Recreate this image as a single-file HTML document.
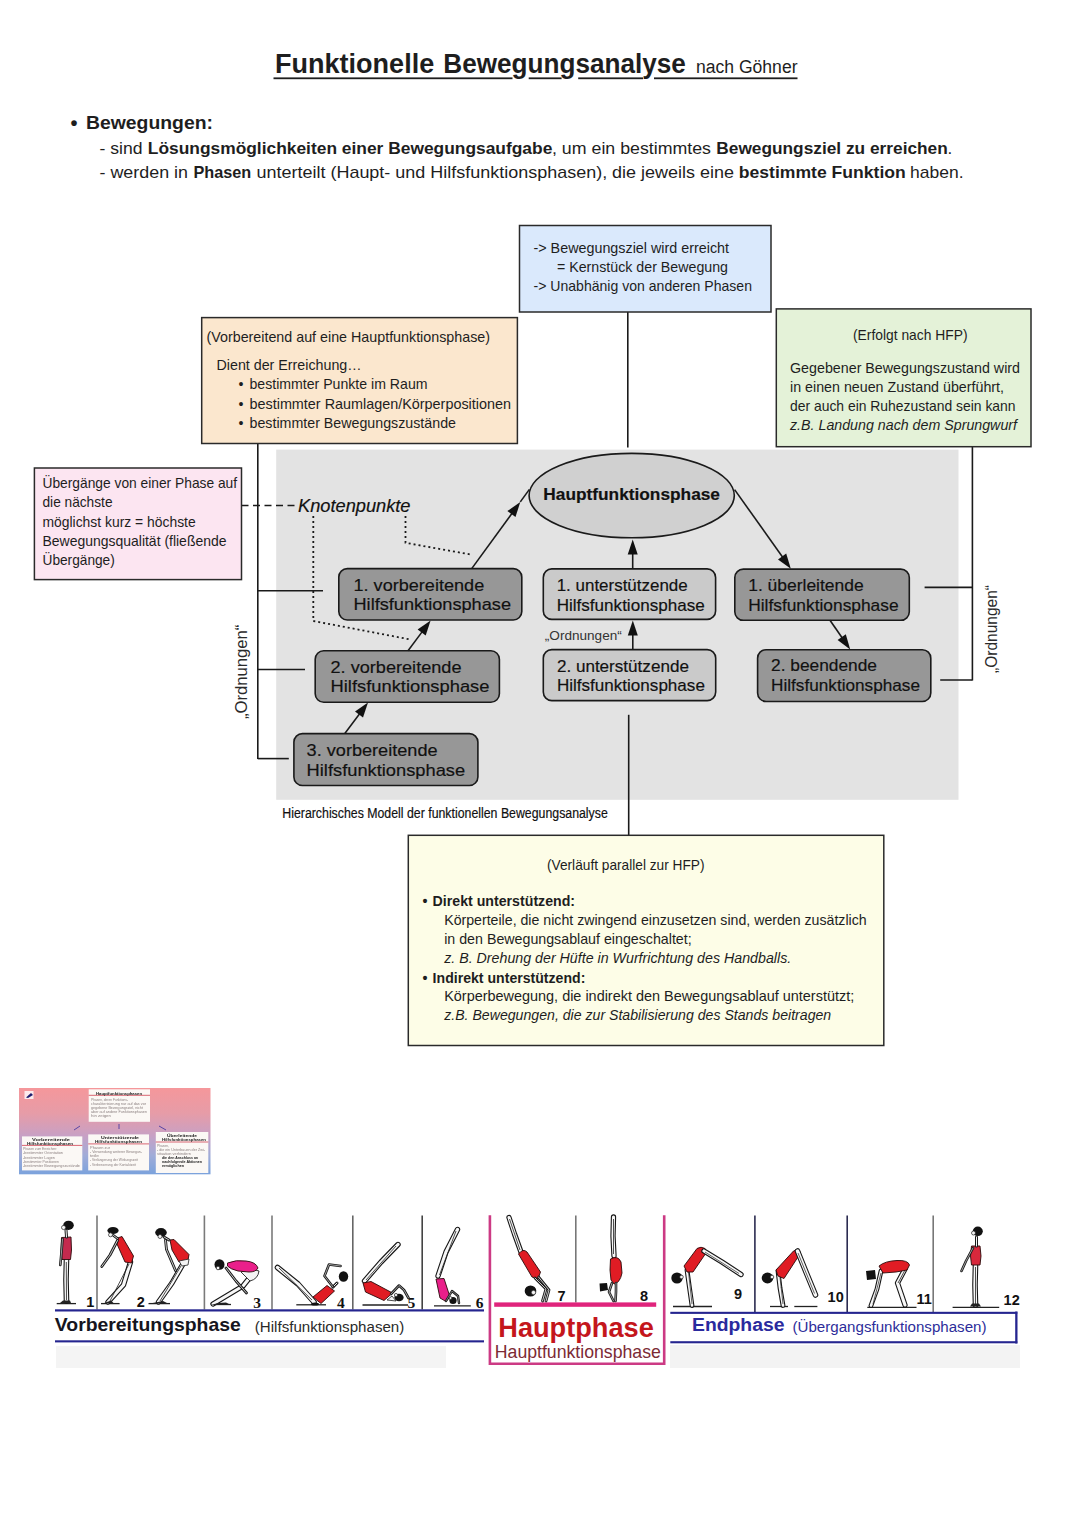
<!DOCTYPE html>
<html><head><meta charset="utf-8">
<style>
html,body{margin:0;padding:0;background:#fff;width:1080px;height:1527px;overflow:hidden}
svg{display:block}
text{font-family:"Liberation Sans",sans-serif;fill:#1e1e1e}
.b{font-weight:bold}
.i{font-style:italic}
.h{fill:#111;stroke:#111;stroke-width:0.18px}
</style></head>
<body>
<svg width="1080" height="1527" viewBox="0 0 1080 1527">

<text x="275.0" y="72.8" font-size="27.5" class="b" textLength="159.18" lengthAdjust="spacingAndGlyphs">Funktionelle</text>
<text x="443.3" y="72.8" font-size="27.5" class="b" textLength="242.54" lengthAdjust="spacingAndGlyphs">Bewegungsanalyse</text>
<text x="696" y="73" font-size="18" textLength="101.5" lengthAdjust="spacingAndGlyphs">nach Göhner</text>
<rect x="273.5" y="77.4" width="239.0" height="1.8" fill="#1e1e1e"/>
<rect x="528.7" y="77.4" width="32.9" height="1.8" fill="#1e1e1e"/>
<rect x="578.2" y="77.4" width="64.8" height="1.8" fill="#1e1e1e"/>
<rect x="654" y="77.4" width="143.5" height="1.8" fill="#1e1e1e"/>
<text x="70.5" y="129.5" font-size="20" class="b">•</text>
<text x="86" y="129.3" font-size="18.8" class="b" textLength="127" lengthAdjust="spacingAndGlyphs">Bewegungen:</text>
<text x="99.5" y="154" font-size="17" textLength="43" lengthAdjust="spacingAndGlyphs">- sind</text>
<text x="147.8" y="154" font-size="17" class="b" textLength="404.5" lengthAdjust="spacingAndGlyphs">Lösungsmöglichkeiten einer Bewegungsaufgabe</text>
<text x="552" y="154" font-size="17" textLength="159" lengthAdjust="spacingAndGlyphs">, um ein bestimmtes</text>
<text x="716.3" y="154" font-size="17" class="b" textLength="231.5" lengthAdjust="spacingAndGlyphs">Bewegungsziel zu erreichen</text>
<text x="947.5" y="154" font-size="17">.</text>
<text x="99.5" y="178" font-size="17" textLength="88.5" lengthAdjust="spacingAndGlyphs">- werden in</text>
<text x="193.4" y="178" font-size="17" class="b" textLength="57.8" lengthAdjust="spacingAndGlyphs">Phasen</text>
<text x="256.5" y="178" font-size="17" textLength="477.5" lengthAdjust="spacingAndGlyphs">unterteilt (Haupt- und Hilfsfunktionsphasen), die jeweils eine</text>
<text x="738.8" y="178" font-size="17" class="b" textLength="167" lengthAdjust="spacingAndGlyphs">bestimmte Funktion</text>
<text x="910" y="178" font-size="17" textLength="53.5" lengthAdjust="spacingAndGlyphs">haben.</text>
<rect x="276.2" y="449.6" width="682.3" height="350.2" fill="#e3e3e3"/>
<line x1="627.8" y1="312" x2="627.8" y2="447.6" stroke="#1a1a1a" stroke-width="1.6" />
<line x1="257.8" y1="443.5" x2="257.8" y2="759" stroke="#1a1a1a" stroke-width="1.6" />
<line x1="257.8" y1="590.8" x2="323" y2="590.8" stroke="#1a1a1a" stroke-width="1.6" />
<line x1="257.8" y1="669.5" x2="305" y2="669.5" stroke="#1a1a1a" stroke-width="1.6" />
<line x1="257.8" y1="758.6" x2="288.8" y2="758.6" stroke="#1a1a1a" stroke-width="1.6" />
<line x1="972.4" y1="446.5" x2="972.4" y2="680.5" stroke="#1a1a1a" stroke-width="1.6" />
<line x1="924.6" y1="587.4" x2="972.4" y2="587.4" stroke="#1a1a1a" stroke-width="1.6" />
<line x1="940.2" y1="680" x2="972.4" y2="680" stroke="#1a1a1a" stroke-width="1.6" />
<line x1="628.7" y1="714.8" x2="628.7" y2="835.5" stroke="#1a1a1a" stroke-width="1.6" />
<line x1="241.5" y1="505.5" x2="296.5" y2="505.5" stroke="#1a1a1a" stroke-width="1.6" stroke-dasharray="7,4.5"/>
<polyline points="313.3,516 313.3,621 410.5,639.5" fill="none" stroke="#1a1a1a" stroke-width="1.8" stroke-dasharray="2,3"/>
<polyline points="405.5,516 405.5,542.8 471.7,554.7" fill="none" stroke="#1a1a1a" stroke-width="1.8" stroke-dasharray="2,3"/>
<ellipse cx="631.7" cy="495.6" rx="102.6" ry="42.2" fill="#d0d0d0" stroke="#1a1a1a" stroke-width="1.6"/>
<text x="543.3" y="500" font-size="17" class="b h" textLength="176.7" lengthAdjust="spacingAndGlyphs">Hauptfunktionsphase</text>
<text x="298" y="511.7" font-size="17.5" class="i h" textLength="112.5" lengthAdjust="spacingAndGlyphs">Knotenpunkte</text>
<rect x="338.8" y="568.6" width="183" height="51.4" rx="8.5" ry="8.5" fill="#979797" stroke="#1a1a1a" stroke-width="1.6"/>
<rect x="315.2" y="650.8" width="184.2" height="51.4" rx="8.5" ry="8.5" fill="#979797" stroke="#1a1a1a" stroke-width="1.6"/>
<rect x="293.9" y="733.6" width="184" height="51.9" rx="8.5" ry="8.5" fill="#979797" stroke="#1a1a1a" stroke-width="1.6"/>
<rect x="543.3" y="568.9" width="172.3" height="50.5" rx="8.5" ry="8.5" fill="#cacaca" stroke="#1a1a1a" stroke-width="1.6"/>
<rect x="543.3" y="649.6" width="172.4" height="51" rx="8.5" ry="8.5" fill="#cacaca" stroke="#1a1a1a" stroke-width="1.6"/>
<rect x="734.8" y="569.1" width="174.5" height="51.2" rx="8.5" ry="8.5" fill="#979797" stroke="#1a1a1a" stroke-width="1.6"/>
<rect x="757.6" y="649.7" width="173.2" height="51.8" rx="8.5" ry="8.5" fill="#979797" stroke="#1a1a1a" stroke-width="1.6"/>
<text x="353.5" y="590.8" font-size="16.4" class="h" textLength="130.7" lengthAdjust="spacingAndGlyphs">1. vorbereitende</text>
<text x="353.5" y="610.3" font-size="16.4" class="h" textLength="157.5" lengthAdjust="spacingAndGlyphs">Hilfsfunktionsphase</text>
<text x="330.5" y="672.8" font-size="16.4" class="h" textLength="131" lengthAdjust="spacingAndGlyphs">2. vorbereitende</text>
<text x="330.5" y="692.3" font-size="16.4" class="h" textLength="159" lengthAdjust="spacingAndGlyphs">Hilfsfunktionsphase</text>
<text x="306.6" y="756" font-size="16.4" class="h" textLength="131" lengthAdjust="spacingAndGlyphs">3. vorbereitende</text>
<text x="306.6" y="775.5" font-size="16.4" class="h" textLength="158.6" lengthAdjust="spacingAndGlyphs">Hilfsfunktionsphase</text>
<text x="556.7" y="591" font-size="16.4" class="h" textLength="131" lengthAdjust="spacingAndGlyphs">1. unterstützende</text>
<text x="556.7" y="610.5" font-size="16.4" class="h" textLength="148" lengthAdjust="spacingAndGlyphs">Hilfsfunktionsphase</text>
<text x="556.9" y="671.9" font-size="16.4" class="h" textLength="132" lengthAdjust="spacingAndGlyphs">2. unterstützende</text>
<text x="556.9" y="691.4" font-size="16.4" class="h" textLength="148" lengthAdjust="spacingAndGlyphs">Hilfsfunktionsphase</text>
<text x="748.2" y="591.4" font-size="16.4" class="h" textLength="115.5" lengthAdjust="spacingAndGlyphs">1. überleitende</text>
<text x="748.2" y="610.9" font-size="16.4" class="h" textLength="150.4" lengthAdjust="spacingAndGlyphs">Hilfsfunktionsphase</text>
<text x="771" y="671.2" font-size="16.4" class="h" textLength="106" lengthAdjust="spacingAndGlyphs">2. beendende</text>
<text x="771" y="690.7" font-size="16.4" class="h" textLength="149" lengthAdjust="spacingAndGlyphs">Hilfsfunktionsphase</text>
<line x1="471.7" y1="568.6" x2="512.0555128180249" y2="513.2149649184719" stroke="#1a1a1a" stroke-width="1.6" />
<polygon points="520.3,501.9 515.5,517.0 507.4,511.1" fill="#111"/>
<line x1="520.3" y1="501.9" x2="529.4" y2="489.4" stroke="#1a1a1a" stroke-width="1.6" />
<line x1="408" y1="650.8" x2="422.24738179550786" y2="631.6353802396708" stroke="#1a1a1a" stroke-width="1.6" />
<polygon points="430.6,620.4 425.7,635.4 417.6,629.5" fill="#111"/>
<line x1="344.8" y1="733.6" x2="359.62889378219097" y2="713.7216122143906" stroke="#1a1a1a" stroke-width="1.6" />
<polygon points="368.0,702.5 363.0,717.5 355.0,711.5" fill="#111"/>
<line x1="632.7" y1="568.9" x2="632.7" y2="553.5" stroke="#1a1a1a" stroke-width="1.6" />
<polygon points="632.7,539.5 637.7,554.5 627.7,554.5" fill="#111"/>
<line x1="632.8" y1="649.6" x2="632.8" y2="634.5" stroke="#1a1a1a" stroke-width="1.6" />
<polygon points="632.8,620.5 637.8,635.5 627.8,635.5" fill="#111"/>
<line x1="734.6" y1="489.6" x2="782.6913524622128" y2="557.2872950135414" stroke="#1a1a1a" stroke-width="1.6" />
<polygon points="790.8,568.7 778.0,559.4 786.2,553.6" fill="#111"/>
<line x1="830" y1="620.2" x2="842.2535772743826" y2="637.9737531752182" stroke="#1a1a1a" stroke-width="1.6" />
<polygon points="850.2,649.5 837.6,640.0 845.8,634.3" fill="#111"/>
<text x="544.8" y="639.8" font-size="12" style="fill:#333" textLength="77" lengthAdjust="spacingAndGlyphs">„Ordnungen“</text>
<text transform="translate(247.3,719) rotate(-90)" x="0" y="0" font-size="15.6" style="fill:#2a2a2a" textLength="94.3" lengthAdjust="spacingAndGlyphs">„Ordnungen“</text>
<text transform="translate(996.5,673) rotate(-90)" x="0" y="0" font-size="15.6" style="fill:#2a2a2a" textLength="88" lengthAdjust="spacingAndGlyphs">„Ordnungen“</text>
<text x="282.3" y="818" font-size="13.8" class="h" textLength="325.5" lengthAdjust="spacingAndGlyphs">Hierarchisches Modell der funktionellen Bewegungsanalyse</text>
<rect x="519.5" y="225.5" width="251.5" height="86.5" fill="#dae9fc" stroke="#2a2a2a" stroke-width="1.5"/>
<text x="533.5" y="253" font-size="14.3" textLength="195.5" lengthAdjust="spacingAndGlyphs">-&gt; Bewegungsziel wird erreicht</text>
<text x="557" y="272" font-size="14.3" textLength="171" lengthAdjust="spacingAndGlyphs">= Kernstück der Bewegung</text>
<text x="533.5" y="291" font-size="14.3" textLength="218.5" lengthAdjust="spacingAndGlyphs">-&gt; Unabhänig von anderen Phasen</text>
<rect x="201.7" y="317.6" width="315.7" height="125.9" fill="#fbe7ce" stroke="#2a2a2a" stroke-width="1.5"/>
<text x="206.5" y="342" font-size="14.2" textLength="283.5" lengthAdjust="spacingAndGlyphs">(Vorbereitend auf eine Hauptfunktionsphase)</text>
<text x="216.5" y="369.6" font-size="14.2" textLength="145" lengthAdjust="spacingAndGlyphs">Dient der Erreichung…</text>
<text x="238.5" y="389" font-size="14.2">•</text>
<text x="249.5" y="389" font-size="14.2" textLength="178" lengthAdjust="spacingAndGlyphs">bestimmter Punkte im Raum</text>
<text x="238.5" y="408.5" font-size="14.2">•</text>
<text x="249.5" y="408.5" font-size="14.2" textLength="261.5" lengthAdjust="spacingAndGlyphs">bestimmter Raumlagen/Körperpositionen</text>
<text x="238.5" y="427.7" font-size="14.2">•</text>
<text x="249.5" y="427.7" font-size="14.2" textLength="206.5" lengthAdjust="spacingAndGlyphs">bestimmter Bewegungszustände</text>
<rect x="776.3" y="308.9" width="254.7" height="137.8" fill="#e4f2d8" stroke="#2a2a2a" stroke-width="1.5"/>
<text x="853" y="340" font-size="14.2" textLength="114.5" lengthAdjust="spacingAndGlyphs">(Erfolgt nach HFP)</text>
<text x="790" y="372.6" font-size="14.2" textLength="230" lengthAdjust="spacingAndGlyphs">Gegebener Bewegungszustand wird</text>
<text x="790" y="391.9" font-size="14.2" textLength="214" lengthAdjust="spacingAndGlyphs">in einen neuen Zustand überführt,</text>
<text x="790" y="411" font-size="14.2" textLength="225.5" lengthAdjust="spacingAndGlyphs">der auch ein Ruhezustand sein kann</text>
<text x="790" y="430.2" font-size="14.2" class="i" textLength="227" lengthAdjust="spacingAndGlyphs">z.B. Landung nach dem Sprungwurf</text>
<rect x="34.4" y="468" width="207.1" height="111.6" fill="#fce5f1" stroke="#2a2a2a" stroke-width="1.5"/>
<text x="42.5" y="488" font-size="14.2" textLength="194.6" lengthAdjust="spacingAndGlyphs">Übergänge von einer Phase auf</text>
<text x="42.5" y="507.4" font-size="14.2" textLength="70" lengthAdjust="spacingAndGlyphs">die nächste</text>
<text x="42.5" y="526.6" font-size="14.2" textLength="153.2" lengthAdjust="spacingAndGlyphs">möglichst kurz = höchste</text>
<text x="42.5" y="546" font-size="14.2" textLength="184" lengthAdjust="spacingAndGlyphs">Bewegungsqualität (fließende</text>
<text x="42.5" y="565.2" font-size="14.2" textLength="72.3" lengthAdjust="spacingAndGlyphs">Übergänge)</text>
<rect x="408.3" y="835.3" width="475.5" height="210.2" fill="#fdfde7" stroke="#2a2a2a" stroke-width="1.5"/>
<text x="547" y="870" font-size="14.2" textLength="157.5" lengthAdjust="spacingAndGlyphs">(Verläuft parallel zur HFP)</text>
<text x="422.5" y="905.6" font-size="14.2" class="b">•</text>
<text x="432.6" y="905.6" font-size="14.2" class="b" textLength="142.5" lengthAdjust="spacingAndGlyphs">Direkt unterstützend:</text>
<text x="444.2" y="925" font-size="14.2" textLength="422.5" lengthAdjust="spacingAndGlyphs">Körperteile, die nicht zwingend einzusetzen sind, werden zusätzlich</text>
<text x="444.2" y="944" font-size="14.2" textLength="247.5" lengthAdjust="spacingAndGlyphs">in den Bewegungsablauf eingeschaltet;</text>
<text x="444.2" y="963.3" font-size="14.2" class="i" textLength="347" lengthAdjust="spacingAndGlyphs">z. B. Drehung der Hüfte in Wurfrichtung des Handballs.</text>
<text x="422.5" y="982.6" font-size="14.2" class="b">•</text>
<text x="432.6" y="982.6" font-size="14.2" class="b" textLength="152.8" lengthAdjust="spacingAndGlyphs">Indirekt unterstützend:</text>
<text x="444.2" y="1001.4" font-size="14.2" textLength="410" lengthAdjust="spacingAndGlyphs">Körperbewegung, die indirekt den Bewegungsablauf unterstützt;</text>
<text x="444.2" y="1020.3" font-size="14.2" class="i" textLength="387" lengthAdjust="spacingAndGlyphs">z.B. Bewegungen, die zur Stabilisierung des Stands beitragen</text>
<defs><linearGradient id="tg" x1="0" y1="0" x2="0" y2="1"><stop offset="0" stop-color="#f5979b"/><stop offset="0.3" stop-color="#e69ca8"/><stop offset="0.55" stop-color="#c8a0c4"/><stop offset="0.78" stop-color="#a0acd8"/><stop offset="1" stop-color="#7ba2dc"/></linearGradient><filter id="bl" x="-5%" y="-5%" width="110%" height="110%"><feGaussianBlur stdDeviation="0.35"/></filter></defs>
<g filter="url(#bl)">
<rect x="19" y="1088" width="191.5" height="86.3" fill="url(#tg)"/>
<rect x="24.5" y="1091" width="9" height="8" fill="#fff" opacity="0.8"/><path d="M26,1097.5 l5,-4.5 l2,2 l-5,3 z" fill="#1b1b6e"/>
<rect x="88.7" y="1089.3" width="61.3" height="32.5" fill="#fbf8f5"/>
<line x1="88.7" y1="1095.3" x2="150.0" y2="1095.3" stroke="#d04050" stroke-width="0.8"/>
<rect x="22" y="1136.4" width="60.3" height="34" fill="#fbf8f5"/>
<line x1="22" y1="1145.4" x2="82.3" y2="1145.4" stroke="#d04050" stroke-width="0.8"/>
<rect x="88.2" y="1134.4" width="60.8" height="36" fill="#fbf8f5"/>
<line x1="88.2" y1="1143.9" x2="149.0" y2="1143.9" stroke="#d04050" stroke-width="0.8"/>
<rect x="155.8" y="1132" width="52.5" height="41" fill="#fbf8f5"/>
<line x1="155.8" y1="1142" x2="208.3" y2="1142" stroke="#d04050" stroke-width="0.8"/>
<text x="96" y="1094.5" font-size="4" font-weight="bold" style="fill:#222" textLength="46" lengthAdjust="spacingAndGlyphs">Hauptfunktionsphasen</text>
<text x="91" y="1100.5" font-size="3.6" style="fill:#8a7f7f" textLength="37" lengthAdjust="spacingAndGlyphs">Phasen, deren Funktions-</text>
<text x="91" y="1104.6" font-size="3.6" style="fill:#8a7f7f" textLength="55" lengthAdjust="spacingAndGlyphs">charakterisierung nur auf das vor</text>
<text x="91" y="1108.7" font-size="3.6" style="fill:#8a7f7f" textLength="52" lengthAdjust="spacingAndGlyphs">gegebene Bewegungsziel, nicht</text>
<text x="91" y="1112.8" font-size="3.6" style="fill:#8a7f7f" textLength="56" lengthAdjust="spacingAndGlyphs">aber auf andere Funktionsphasen</text>
<text x="91" y="1116.9" font-size="3.6" style="fill:#8a7f7f" textLength="20" lengthAdjust="spacingAndGlyphs">hin zeigen</text>
<text x="32" y="1141" font-size="4" font-weight="bold" style="fill:#222" textLength="38" lengthAdjust="spacingAndGlyphs">Vorbereitende</text>
<text x="27" y="1145" font-size="4" font-weight="bold" style="fill:#222" textLength="46" lengthAdjust="spacingAndGlyphs">Hilfsfunktionsphasen</text>
<text x="23" y="1150.0" font-size="3.6" style="fill:#8a7f7f" textLength="34" lengthAdjust="spacingAndGlyphs">Phasen zum Erreichen:</text>
<text x="23" y="1154.3" font-size="3.6" style="fill:#8a7f7f" textLength="40" lengthAdjust="spacingAndGlyphs">-bestimmter Orientation</text>
<text x="23" y="1158.6" font-size="3.6" style="fill:#8a7f7f" textLength="32" lengthAdjust="spacingAndGlyphs">-bestimmter Lagen</text>
<text x="23" y="1162.9" font-size="3.6" style="fill:#8a7f7f" textLength="36" lengthAdjust="spacingAndGlyphs">-bestimmter Positionen</text>
<text x="23" y="1167.2" font-size="3.6" style="fill:#8a7f7f" textLength="57" lengthAdjust="spacingAndGlyphs">-bestimmter Bewegungszustände</text>
<text x="101" y="1139" font-size="4" font-weight="bold" style="fill:#222" textLength="38" lengthAdjust="spacingAndGlyphs">Unterstützende</text>
<text x="95" y="1143" font-size="4" font-weight="bold" style="fill:#222" textLength="47" lengthAdjust="spacingAndGlyphs">Hilfsfunktionsphasen</text>
<text x="90" y="1148.5" font-size="3.6" style="fill:#8a7f7f" textLength="20" lengthAdjust="spacingAndGlyphs">Phasen zur</text>
<text x="90" y="1152.8" font-size="3.6" style="fill:#8a7f7f" textLength="52" lengthAdjust="spacingAndGlyphs">- Verwendung weiterer Bewegun-</text>
<text x="90" y="1157.1" font-size="3.6" style="fill:#8a7f7f" textLength="9" lengthAdjust="spacingAndGlyphs">teile</text>
<text x="90" y="1161.4" font-size="3.6" style="fill:#8a7f7f" textLength="48" lengthAdjust="spacingAndGlyphs">- Verlängerung der Wirkungszeit</text>
<text x="90" y="1165.7" font-size="3.6" style="fill:#8a7f7f" textLength="46" lengthAdjust="spacingAndGlyphs">- Verbesserung der Kontaktzeit</text>
<text x="167" y="1137" font-size="4" font-weight="bold" style="fill:#222" textLength="30" lengthAdjust="spacingAndGlyphs">Überleitende</text>
<text x="162" y="1141" font-size="4" font-weight="bold" style="fill:#222" textLength="44" lengthAdjust="spacingAndGlyphs">Hilfsfunktionsphasen</text>
<text x="157" y="1146.5" font-size="3.6" style="fill:#8a7f7f" textLength="12" lengthAdjust="spacingAndGlyphs">Phasen,</text>
<text x="157" y="1150.7" font-size="3.6" style="fill:#8a7f7f" textLength="48" lengthAdjust="spacingAndGlyphs">- die ein Unterbauen der Zwi-</text>
<text x="157" y="1154.9" font-size="3.6" style="fill:#8a7f7f" textLength="34" lengthAdjust="spacingAndGlyphs">situation verhindern</text>
<text x="162" y="1159.0" font-size="3.8" font-weight="bold" style="fill:#1a1a1a" textLength="36" lengthAdjust="spacingAndGlyphs">die den Anschluss an</text>
<text x="162" y="1163.2" font-size="3.8" font-weight="bold" style="fill:#1a1a1a" textLength="40" lengthAdjust="spacingAndGlyphs">nachfolgende Aktionen</text>
<text x="162" y="1167.4" font-size="3.8" font-weight="bold" style="fill:#1a1a1a" textLength="22" lengthAdjust="spacingAndGlyphs">ermöglichen</text>
<line x1="80" y1="1126" x2="74" y2="1130" stroke="#4a3aa0" stroke-width="0.9"/><line x1="119" y1="1124" x2="119" y2="1129" stroke="#4a3aa0" stroke-width="0.9"/><line x1="159" y1="1126" x2="166" y2="1130" stroke="#4a3aa0" stroke-width="0.9"/>
</g>
<rect x="56" y="1346" width="390" height="22" fill="#f4f4f4"/>
<rect x="670" y="1345" width="350" height="23" fill="#f3f3f3"/>
<line x1="97" y1="1215.5" x2="97" y2="1309.5" stroke="#7a7a7a" stroke-width="1.6"/>
<line x1="204.4" y1="1215.5" x2="204.4" y2="1309.5" stroke="#7a7a7a" stroke-width="1.6"/>
<line x1="272" y1="1215.5" x2="272" y2="1309.5" stroke="#7a7a7a" stroke-width="1.6"/>
<line x1="352.8" y1="1215.5" x2="352.8" y2="1309.5" stroke="#666" stroke-width="1.6"/>
<line x1="422.2" y1="1215.5" x2="422.2" y2="1309.5" stroke="#444" stroke-width="1.6"/>
<line x1="575.8" y1="1215.5" x2="575.8" y2="1302.5" stroke="#777" stroke-width="1.6"/>
<line x1="754.9" y1="1215.5" x2="754.9" y2="1312" stroke="#2b2b50" stroke-width="1.6"/>
<line x1="847.2" y1="1215.5" x2="847.2" y2="1312" stroke="#2b2b50" stroke-width="1.6"/>
<line x1="933.2" y1="1215.5" x2="933.2" y2="1312" stroke="#777" stroke-width="1.6"/>
<rect x="55" y="1309.3" width="429" height="2.2" fill="#25258f"/>
<rect x="55" y="1340.3" width="429" height="2.1" fill="#25258f"/>
<rect x="670.3" y="1311.8" width="347" height="2.1" fill="#25258f"/>
<rect x="670.3" y="1341.2" width="347" height="2.1" fill="#25258f"/>
<rect x="1015.2" y="1311.5" width="2.3" height="32" fill="#25258f"/>
<path d="M489.9,1215.3 V1363.8 H664.2 V1215.3" fill="none" stroke="#cc3a84" stroke-width="2.6"/>
<rect x="494.2" y="1302.4" width="162" height="4.4" fill="#e0247c"/>
<text x="54.8" y="1330.5" font-size="18.6" class="b" style="fill:#151520" textLength="186" lengthAdjust="spacingAndGlyphs">Vorbereitungsphase</text>
<text x="254.8" y="1331.7" font-size="13.8" style="fill:#2a2a2a" textLength="149.5" lengthAdjust="spacingAndGlyphs">(Hilfsfunktionsphasen)</text>
<text x="498.3" y="1337.2" font-size="27.5" class="b" style="fill:#c4161c" textLength="155.5" lengthAdjust="spacingAndGlyphs">Hauptphase</text>
<text x="494.8" y="1358.3" font-size="18.5" style="fill:#7c2a35" textLength="166" lengthAdjust="spacingAndGlyphs">Hauptfunktionsphase</text>
<text x="692" y="1331.4" font-size="18" class="b" style="fill:#2a2a9e" textLength="92.5" lengthAdjust="spacingAndGlyphs">Endphase</text>
<text x="792.5" y="1332" font-size="14" style="fill:#2d2d9a" textLength="194" lengthAdjust="spacingAndGlyphs">(Übergangsfunktionsphasen)</text>
<text x="86.3" y="1307" font-size="14.5" font-weight="bold" style="fill:#111">1</text>
<text x="136.7" y="1307" font-size="14.5" font-weight="bold" style="fill:#111">2</text>
<text x="253.3" y="1307.8" font-size="15.5" font-weight="bold" style="font-family:Liberation Serif;fill:#111">3</text>
<text x="337" y="1307.8" font-size="15.5" font-weight="bold" style="font-family:Liberation Serif;fill:#111">4</text>
<text x="407.6" y="1307.8" font-size="15.5" font-weight="bold" style="font-family:Liberation Serif;fill:#111">5</text>
<text x="475.7" y="1307.8" font-size="15.5" font-weight="bold" style="font-family:Liberation Serif;fill:#111">6</text>
<text x="557.5" y="1300.8" font-size="14.5" font-weight="bold" style="fill:#111">7</text>
<text x="640" y="1300.8" font-size="14.5" font-weight="bold" style="fill:#111">8</text>
<text x="734" y="1299.4" font-size="14.5" font-weight="bold" style="fill:#111">9</text>
<text x="827.6" y="1302.2" font-size="14.5" font-weight="bold" style="fill:#111">10</text>
<text x="916.5" y="1304.4" font-size="14.5" font-weight="bold" style="fill:#111">11</text>
<text x="1003.6" y="1305.3" font-size="14.5" font-weight="bold" style="fill:#111">12</text>
<line x1="56.7" y1="1303.6" x2="76" y2="1303.6" stroke="#222" stroke-width="1.3"/>
<line x1="101" y1="1303.6" x2="119.6" y2="1303.6" stroke="#222" stroke-width="1.3"/>
<line x1="148.5" y1="1303.6" x2="170" y2="1303.6" stroke="#222" stroke-width="1.3"/>
<line x1="211" y1="1304.5" x2="231" y2="1304.5" stroke="#222" stroke-width="1.3"/>
<line x1="296.3" y1="1304.8" x2="326" y2="1304.8" stroke="#222" stroke-width="1.3"/>
<line x1="362.5" y1="1305" x2="408" y2="1305" stroke="#222" stroke-width="1.3"/>
<line x1="434" y1="1305.8" x2="470.8" y2="1305.8" stroke="#222" stroke-width="1.3"/>
<line x1="673" y1="1306.5" x2="712" y2="1306.5" stroke="#222" stroke-width="1.3"/>
<line x1="770" y1="1306.5" x2="788" y2="1306.5" stroke="#222" stroke-width="1.3"/>
<line x1="794.3" y1="1306.5" x2="817.4" y2="1306.5" stroke="#222" stroke-width="1.3"/>
<line x1="867.3" y1="1307.4" x2="916.5" y2="1307.4" stroke="#222" stroke-width="1.3"/>
<line x1="952.6" y1="1307.4" x2="999.2" y2="1307.4" stroke="#222" stroke-width="1.3"/>
<polyline points="66.5,1259 66,1280 66.5,1301" fill="none" stroke="#161616" stroke-width="5.6" stroke-linecap="round" stroke-linejoin="round"/>
<polyline points="66.5,1259 66,1280 66.5,1301" fill="none" stroke="#f7f7f7" stroke-width="3.3999999999999995" stroke-linecap="round" stroke-linejoin="round"/>
<line x1="66.3" y1="1262" x2="66.5" y2="1300" stroke="#222" stroke-width="0.8"/>
<path d="M60,1303 L71,1303 L70,1300.5 L63,1300.5 Z" fill="#222"/>
<path d="M61.5,1237.5 L71,1237 L71.5,1250 L70.5,1259.5 L62,1259.5 L61,1250 Z" fill="#c42a4e" stroke="#2a0a0a" stroke-width="0.9" stroke-linejoin="round"/>
<polyline points="62.5,1239 61.5,1252 60.3,1265" fill="none" stroke="#1a1a1a" stroke-width="2.6" stroke-linecap="round" stroke-linejoin="round"/>
<polyline points="62.5,1239 61.5,1252 60.3,1265" fill="none" stroke="#f4f4f4" stroke-width="0.6000000000000001" stroke-linecap="round" stroke-linejoin="round"/>
<polyline points="66,1230 66.5,1237" fill="none" stroke="#1a1a1a" stroke-width="3" stroke-linecap="round" stroke-linejoin="round"/>
<polyline points="66,1230 66.5,1237" fill="none" stroke="#f4f4f4" stroke-width="1" stroke-linecap="round" stroke-linejoin="round"/>
<ellipse cx="68.5" cy="1225.3" rx="5.3" ry="4.6" fill="#121212"/>
<circle cx="63.6" cy="1227.5" r="2.1" fill="#f4f4f4" stroke="#222" stroke-width="0.7"/>
<polyline points="130.5,1262 123.5,1285 108,1302" fill="none" stroke="#161616" stroke-width="5.4" stroke-linecap="round" stroke-linejoin="round"/>
<polyline points="130.5,1262 123.5,1285 108,1302" fill="none" stroke="#f7f7f7" stroke-width="3.2" stroke-linecap="round" stroke-linejoin="round"/>
<line x1="129" y1="1264" x2="110" y2="1301" stroke="#222" stroke-width="0.8"/>
<path d="M103,1303.5 L114,1303.5 L111,1300.5 Z" fill="#222"/>
<path d="M117.5,1238 L122,1236.5 L133.5,1256 L131.5,1263 L125,1262 L117,1244 Z" fill="#e01c24" stroke="#2a0a0a" stroke-width="0.9" stroke-linejoin="round"/>
<polyline points="117.5,1240.5 110,1255 101.8,1266.5" fill="none" stroke="#1a1a1a" stroke-width="2.8" stroke-linecap="round" stroke-linejoin="round"/>
<polyline points="117.5,1240.5 110,1255 101.8,1266.5" fill="none" stroke="#f4f4f4" stroke-width="0.7999999999999998" stroke-linecap="round" stroke-linejoin="round"/>
<polyline points="113.5,1235.5 117.5,1238.5" fill="none" stroke="#1a1a1a" stroke-width="2.8" stroke-linecap="round" stroke-linejoin="round"/>
<polyline points="113.5,1235.5 117.5,1238.5" fill="none" stroke="#f4f4f4" stroke-width="0.7999999999999998" stroke-linecap="round" stroke-linejoin="round"/>
<ellipse cx="113" cy="1230.5" rx="5.6" ry="3.6" fill="#121212"/>
<circle cx="110.5" cy="1234.8" r="2" fill="#f4f4f4" stroke="#222" stroke-width="0.7"/>
<polyline points="183,1264 172,1283 158.5,1302" fill="none" stroke="#161616" stroke-width="5.4" stroke-linecap="round" stroke-linejoin="round"/>
<polyline points="183,1264 172,1283 158.5,1302" fill="none" stroke="#f7f7f7" stroke-width="3.2" stroke-linecap="round" stroke-linejoin="round"/>
<line x1="181" y1="1266" x2="160" y2="1301" stroke="#222" stroke-width="0.8"/>
<path d="M150,1303.6 L168,1303.6 L163,1301 Z" fill="#222"/>
<path d="M170,1240 L174,1239.5 L189,1254.5 L188,1260 L179,1262 L172,1250 Z" fill="#e01c24" stroke="#2a0a0a" stroke-width="0.9" stroke-linejoin="round"/>
<path d="M179,1261 L189,1259 L188,1265 L182,1266 Z" fill="#f4f4f4" stroke="#222" stroke-width="0.8"/>
<polyline points="165.5,1240 166.5,1249.5 175.5,1270.5" fill="none" stroke="#1a1a1a" stroke-width="2.8" stroke-linecap="round" stroke-linejoin="round"/>
<polyline points="165.5,1240 166.5,1249.5 175.5,1270.5" fill="none" stroke="#f4f4f4" stroke-width="0.7999999999999998" stroke-linecap="round" stroke-linejoin="round"/>
<polyline points="164,1237 169,1240" fill="none" stroke="#1a1a1a" stroke-width="2.8" stroke-linecap="round" stroke-linejoin="round"/>
<polyline points="164,1237 169,1240" fill="none" stroke="#f4f4f4" stroke-width="0.7999999999999998" stroke-linecap="round" stroke-linejoin="round"/>
<ellipse cx="161" cy="1232.5" rx="5.8" ry="4.4" fill="#121212"/>
<circle cx="160" cy="1236.5" r="2" fill="#f4f4f4" stroke="#222" stroke-width="0.7"/>
<polyline points="251,1276 243,1286 213,1304" fill="none" stroke="#161616" stroke-width="5.3" stroke-linecap="round" stroke-linejoin="round"/>
<polyline points="251,1276 243,1286 213,1304" fill="none" stroke="#f7f7f7" stroke-width="3.0999999999999996" stroke-linecap="round" stroke-linejoin="round"/>
<polyline points="226,1268 236,1281 246.5,1293" fill="none" stroke="#1a1a1a" stroke-width="2.8" stroke-linecap="round" stroke-linejoin="round"/>
<polyline points="226,1268 236,1281 246.5,1293" fill="none" stroke="#f4f4f4" stroke-width="0.7999999999999998" stroke-linecap="round" stroke-linejoin="round"/>
<path d="M241,1272 Q252,1268 259,1271 Q258,1279 250,1281 Z" fill="#f4f4f4" stroke="#222" stroke-width="0.9"/>
<path d="M227.5,1263 Q236,1259.5 246,1261 Q256,1262 258,1268 Q256,1272 249,1272 L238,1271 Q230,1269 227.5,1266 Z" fill="#ea1f8a" stroke="#2a0a0a" stroke-width="0.9" stroke-linejoin="round"/>
<ellipse cx="219.5" cy="1264.5" rx="5" ry="5.3" fill="#121212"/>
<circle cx="218" cy="1268" r="1.8" fill="#f4f4f4" stroke="#222" stroke-width="0.7"/>
<path d="M211,1305 L231,1305 L226,1302.5 L218,1303 Z" fill="#222"/>
<polyline points="277.5,1267.5 298,1284 314,1302" fill="none" stroke="#161616" stroke-width="5.6" stroke-linecap="round" stroke-linejoin="round"/>
<polyline points="277.5,1267.5 298,1284 314,1302" fill="none" stroke="#f7f7f7" stroke-width="3.3999999999999995" stroke-linecap="round" stroke-linejoin="round"/>
<line x1="279" y1="1268" x2="312" y2="1300" stroke="#222" stroke-width="0.8"/>
<path d="M313,1297 L327,1285.5 L334.5,1291 L321,1303.5 Z" fill="#e01c24" stroke="#2a0a0a" stroke-width="0.9" stroke-linejoin="round"/>
<polyline points="333,1287 337,1283" fill="none" stroke="#1a1a1a" stroke-width="3" stroke-linecap="round" stroke-linejoin="round"/>
<polyline points="333,1287 337,1283" fill="none" stroke="#f4f4f4" stroke-width="1" stroke-linecap="round" stroke-linejoin="round"/>
<polyline points="333,1287 324.5,1276 329,1264.5 340.5,1266" fill="none" stroke="#1a1a1a" stroke-width="2.6" stroke-linecap="round" stroke-linejoin="round"/>
<polyline points="333,1287 324.5,1276 329,1264.5 340.5,1266" fill="none" stroke="#f4f4f4" stroke-width="0.6000000000000001" stroke-linecap="round" stroke-linejoin="round"/>
<ellipse cx="343.5" cy="1276.5" rx="4.7" ry="5.3" fill="#121212"/>
<ellipse cx="315" cy="1304" rx="4" ry="1.6" fill="#111"/>
<polyline points="398,1244.5 381,1262 364.5,1281" fill="none" stroke="#161616" stroke-width="5.4" stroke-linecap="round" stroke-linejoin="round"/>
<polyline points="398,1244.5 381,1262 364.5,1281" fill="none" stroke="#f7f7f7" stroke-width="3.2" stroke-linecap="round" stroke-linejoin="round"/>
<line x1="396" y1="1246" x2="366" y2="1280" stroke="#222" stroke-width="0.8"/>
<path d="M363,1283 L371,1281.5 L392.5,1293 L384,1300.5 L365.5,1292 Z" fill="#e01c24" stroke="#2a0a0a" stroke-width="0.9" stroke-linejoin="round"/>
<polyline points="391,1294 399,1285.5 404,1290 408.5,1298" fill="none" stroke="#1a1a1a" stroke-width="2.6" stroke-linecap="round" stroke-linejoin="round"/>
<polyline points="391,1294 399,1285.5 404,1290 408.5,1298" fill="none" stroke="#f4f4f4" stroke-width="0.6000000000000001" stroke-linecap="round" stroke-linejoin="round"/>
<ellipse cx="399" cy="1297.5" rx="4.6" ry="3.8" fill="#121212"/>
<circle cx="396" cy="1295" r="1.6" fill="#f4f4f4" stroke="#222" stroke-width="0.7"/>
<path d="M387,1300 L392,1296 L396,1301 Z" fill="#f4f4f4" stroke="#222" stroke-width="0.8"/>
<polyline points="457.5,1229.5 446,1252 438,1276" fill="none" stroke="#161616" stroke-width="5.4" stroke-linecap="round" stroke-linejoin="round"/>
<polyline points="457.5,1229.5 446,1252 438,1276" fill="none" stroke="#f7f7f7" stroke-width="3.2" stroke-linecap="round" stroke-linejoin="round"/>
<line x1="456" y1="1231" x2="439.5" y2="1275" stroke="#222" stroke-width="0.8"/>
<path d="M436,1279 L444,1278.5 L450,1297 L446,1301.5 L440,1298 Z" fill="#ea1f8a" stroke="#2a0a0a" stroke-width="0.9" stroke-linejoin="round"/>
<polyline points="446,1301 452,1291 458,1296 459,1303" fill="none" stroke="#1a1a1a" stroke-width="2.4" stroke-linecap="round" stroke-linejoin="round"/>
<polyline points="446,1301 452,1291 458,1296 459,1303" fill="none" stroke="#f4f4f4" stroke-width="0.3999999999999999" stroke-linecap="round" stroke-linejoin="round"/>
<ellipse cx="453" cy="1300.5" rx="3.6" ry="3.6" fill="#121212"/>
<circle cx="450.5" cy="1298" r="1.4" fill="#f4f4f4" stroke="#222" stroke-width="0.7"/>
<polyline points="509,1217.5 514.5,1234 521,1252" fill="none" stroke="#161616" stroke-width="5.3" stroke-linecap="round" stroke-linejoin="round"/>
<polyline points="509,1217.5 514.5,1234 521,1252" fill="none" stroke="#f7f7f7" stroke-width="3.0999999999999996" stroke-linecap="round" stroke-linejoin="round"/>
<line x1="509.5" y1="1219" x2="520" y2="1250" stroke="#222" stroke-width="0.8"/>
<path d="M518.5,1254 Q523,1248 527,1252 L540.5,1272 L538,1279 L532,1277 Z" fill="#e01c24" stroke="#2a0a0a" stroke-width="0.9" stroke-linejoin="round"/>
<polyline points="535,1278 546,1289 542.5,1301" fill="none" stroke="#1a1a1a" stroke-width="2.8" stroke-linecap="round" stroke-linejoin="round"/>
<polyline points="535,1278 546,1289 542.5,1301" fill="none" stroke="#f4f4f4" stroke-width="0.7999999999999998" stroke-linecap="round" stroke-linejoin="round"/>
<polyline points="538.5,1277 549,1290 546,1301" fill="none" stroke="#1a1a1a" stroke-width="2.8" stroke-linecap="round" stroke-linejoin="round"/>
<polyline points="538.5,1277 549,1290 546,1301" fill="none" stroke="#f4f4f4" stroke-width="0.7999999999999998" stroke-linecap="round" stroke-linejoin="round"/>
<ellipse cx="530.5" cy="1291" rx="5.8" ry="5.6" fill="#121212"/>
<circle cx="533.5" cy="1292.5" r="2.2" fill="#f4f4f4" stroke="#222" stroke-width="0.7"/>
<polyline points="613.5,1217 613,1236 614,1256" fill="none" stroke="#161616" stroke-width="5.3" stroke-linecap="round" stroke-linejoin="round"/>
<polyline points="613.5,1217 613,1236 614,1256" fill="none" stroke="#f7f7f7" stroke-width="3.0999999999999996" stroke-linecap="round" stroke-linejoin="round"/>
<line x1="613.5" y1="1219" x2="613.5" y2="1254" stroke="#222" stroke-width="0.8"/>
<path d="M610.5,1259 Q618,1255 621,1262 L622,1273 Q620,1283 614,1284 L611,1280 L610,1270 Z" fill="#e01c24" stroke="#2a0a0a" stroke-width="0.9" stroke-linejoin="round"/>
<polyline points="612,1283 609,1292 613.5,1301" fill="none" stroke="#1a1a1a" stroke-width="2.6" stroke-linecap="round" stroke-linejoin="round"/>
<polyline points="612,1283 609,1292 613.5,1301" fill="none" stroke="#f4f4f4" stroke-width="0.6000000000000001" stroke-linecap="round" stroke-linejoin="round"/>
<polyline points="616,1283 616,1292 615.5,1301" fill="none" stroke="#1a1a1a" stroke-width="2.6" stroke-linecap="round" stroke-linejoin="round"/>
<polyline points="616,1283 616,1292 615.5,1301" fill="none" stroke="#f4f4f4" stroke-width="0.6000000000000001" stroke-linecap="round" stroke-linejoin="round"/>
<path d="M599.5,1283.5 L607,1283 L608,1290 L600,1291.5 Z" fill="#121212"/>
<polyline points="687,1270 689.5,1288 692,1305.5" fill="none" stroke="#161616" stroke-width="4.8" stroke-linecap="round" stroke-linejoin="round"/>
<polyline points="687,1270 689.5,1288 692,1305.5" fill="none" stroke="#f7f7f7" stroke-width="2.5999999999999996" stroke-linecap="round" stroke-linejoin="round"/>
<line x1="688.5" y1="1272" x2="692" y2="1304" stroke="#222" stroke-width="0.7"/>
<path d="M684,1266 L697,1248.5 Q701,1246 705,1248.5 L706,1253 L693,1272 L687,1272 Z" fill="#e01c24" stroke="#2a0a0a" stroke-width="0.9" stroke-linejoin="round"/>
<polyline points="704,1251 722,1262 741,1274.5" fill="none" stroke="#161616" stroke-width="5.4" stroke-linecap="round" stroke-linejoin="round"/>
<polyline points="704,1251 722,1262 741,1274.5" fill="none" stroke="#f7f7f7" stroke-width="3.2" stroke-linecap="round" stroke-linejoin="round"/>
<line x1="705" y1="1252" x2="739" y2="1273.5" stroke="#222" stroke-width="0.7"/>
<ellipse cx="677" cy="1278" rx="5.7" ry="5.6" fill="#121212"/>
<circle cx="681.5" cy="1277" r="1.8" fill="#f4f4f4" stroke="#222" stroke-width="0.7"/>
<polyline points="778,1271 780,1288 783,1305.5" fill="none" stroke="#161616" stroke-width="4.8" stroke-linecap="round" stroke-linejoin="round"/>
<polyline points="778,1271 780,1288 783,1305.5" fill="none" stroke="#f7f7f7" stroke-width="2.5999999999999996" stroke-linecap="round" stroke-linejoin="round"/>
<line x1="779.5" y1="1273" x2="783" y2="1304" stroke="#222" stroke-width="0.7"/>
<path d="M776,1270 L793.5,1251 Q797,1248.5 800,1251 L798,1257 L784,1278.5 L778,1276 Z" fill="#e01c24" stroke="#2a0a0a" stroke-width="0.9" stroke-linejoin="round"/>
<polyline points="797.5,1251 806,1272 815.5,1295" fill="none" stroke="#161616" stroke-width="5.6" stroke-linecap="round" stroke-linejoin="round"/>
<polyline points="797.5,1251 806,1272 815.5,1295" fill="none" stroke="#f7f7f7" stroke-width="3.3999999999999995" stroke-linecap="round" stroke-linejoin="round"/>
<line x1="798" y1="1253" x2="814.5" y2="1293.5" stroke="#222" stroke-width="0.7"/>
<ellipse cx="767.5" cy="1278" rx="5.8" ry="5.4" fill="#121212"/>
<circle cx="772" cy="1277" r="1.8" fill="#f4f4f4" stroke="#222" stroke-width="0.7"/>
<polyline points="881,1271 877,1289 871,1305.5" fill="none" stroke="#161616" stroke-width="4.8" stroke-linecap="round" stroke-linejoin="round"/>
<polyline points="881,1271 877,1289 871,1305.5" fill="none" stroke="#f7f7f7" stroke-width="2.5999999999999996" stroke-linecap="round" stroke-linejoin="round"/>
<line x1="881" y1="1273" x2="873" y2="1304" stroke="#222" stroke-width="0.7"/>
<polyline points="905,1269 897.5,1283 905,1305" fill="none" stroke="#161616" stroke-width="5.3" stroke-linecap="round" stroke-linejoin="round"/>
<polyline points="905,1269 897.5,1283 905,1305" fill="none" stroke="#f7f7f7" stroke-width="3.0999999999999996" stroke-linecap="round" stroke-linejoin="round"/>
<line x1="905" y1="1270" x2="898" y2="1283" stroke="#222" stroke-width="0.8"/>
<path d="M879,1266 Q885,1261 897,1260.5 Q908,1260 909.5,1265 L907,1270 L896,1272 L883,1273 Z" fill="#e01c24" stroke="#2a0a0a" stroke-width="0.9" stroke-linejoin="round"/>
<path d="M866,1271 L875,1270 L876,1279 L867,1280 Z" fill="#121212"/>
<polyline points="975.5,1265 975,1285 975.5,1305" fill="none" stroke="#161616" stroke-width="5.6" stroke-linecap="round" stroke-linejoin="round"/>
<polyline points="975.5,1265 975,1285 975.5,1305" fill="none" stroke="#f7f7f7" stroke-width="3.3999999999999995" stroke-linecap="round" stroke-linejoin="round"/>
<line x1="975.5" y1="1267" x2="975.5" y2="1304" stroke="#222" stroke-width="0.8"/>
<path d="M970,1306.5 L981,1306.5 L979,1303.5 L972,1303.5 Z" fill="#222"/>
<path d="M971.5,1246 L980,1246 L981,1256 L980,1265 L971.5,1265 L970.5,1256 Z" fill="#d8283c" stroke="#2a0a0a" stroke-width="0.9" stroke-linejoin="round"/>
<polyline points="973,1248 966,1261 961.5,1271" fill="none" stroke="#1a1a1a" stroke-width="2.6" stroke-linecap="round" stroke-linejoin="round"/>
<polyline points="973,1248 966,1261 961.5,1271" fill="none" stroke="#f4f4f4" stroke-width="0.6000000000000001" stroke-linecap="round" stroke-linejoin="round"/>
<polyline points="976.5,1237 976.5,1246" fill="none" stroke="#1a1a1a" stroke-width="3" stroke-linecap="round" stroke-linejoin="round"/>
<polyline points="976.5,1237 976.5,1246" fill="none" stroke="#f4f4f4" stroke-width="1" stroke-linecap="round" stroke-linejoin="round"/>
<ellipse cx="977.8" cy="1231.3" rx="5" ry="4.8" fill="#121212"/>
<circle cx="973.5" cy="1233" r="2" fill="#f4f4f4" stroke="#222" stroke-width="0.7"/>
</svg>
</body></html>
